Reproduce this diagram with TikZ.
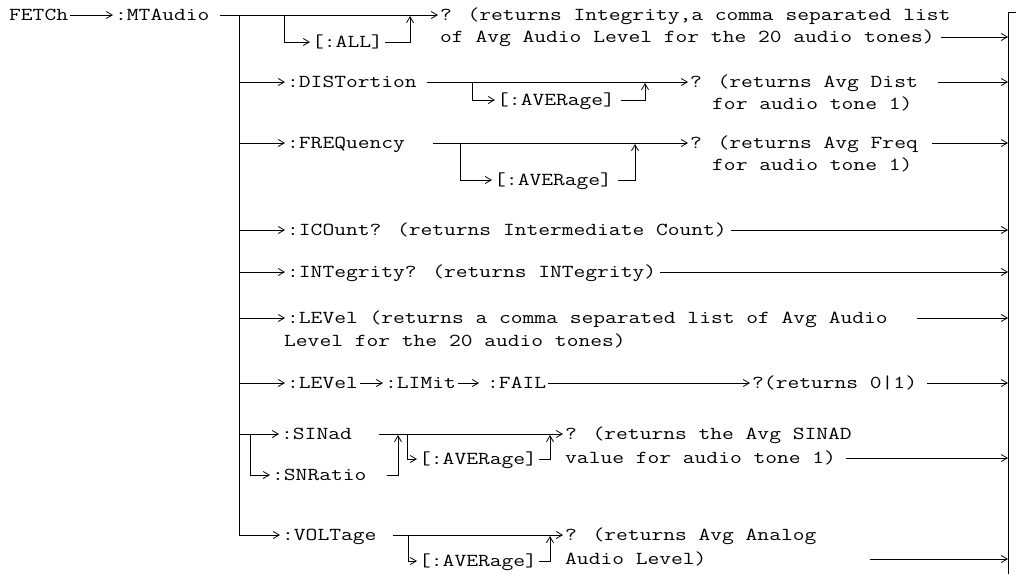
\documentclass[tikz,border=0pt]{standalone}
\usepackage{fontspec}
\usetikzlibrary{arrows.meta}
\newcommand\mt[1]{\scalebox{1}[0.8]{#1}}
\begin{document}
\begin{tikzpicture}[x=1pt,y=-1pt,
 lbl/.style={anchor=west, inner xsep=2pt, inner ysep=0pt, text height=11.2pt, text depth=0pt, font=\ttfamily\fontsize{22.86}{26}\selectfont},
 ln/.style={line width=0.8pt},
 arr/.style={ln,-{Straight Barb[length=6pt,width=7pt]}},
]
\useasboundingbox (0,0) rectangle (1018,574);
% text nodes
\node[lbl] (fetch) at (7,15) {\mt{FETCh}};
\node[lbl] (mta) at (113,15) {\mt{:MTAudio}};
\node[lbl] (q1) at (438,15) {\mt{? (returns Integrity,a comma separated list}};
\node[lbl] (q1b) at (438,37) {\mt{of Avg Audio Level for the 20 audio tones)}};
\node[lbl] (all) at (310,42) {\mt{[:ALL]}};
\node[lbl] (dist) at (285,82) {\mt{:DISTortion}};
\node[lbl] (q2) at (688,82) {\mt{? (returns Avg Dist}};
\node[lbl] (q2b) at (710,104) {\mt{for audio tone 1)}};
\node[lbl] (avgD) at (495,100) {\mt{[:AVERage]}};
\node[lbl] (freq) at (285,143) {\mt{:FREQuency}};
\node[lbl] (q3) at (688,143) {\mt{? (returns Avg Freq}};
\node[lbl] (q3b) at (710,165) {\mt{for audio tone 1)}};
\node[lbl] (avgF) at (492,180) {\mt{[:AVERage]}};
\node[lbl] (icount) at (285,230) {\mt{:ICOunt? (returns Intermediate Count)}};
\node[lbl] (integ) at (285,272) {\mt{:INTegrity? (returns INTegrity)}};
\node[lbl] (level) at (285,318) {\mt{:LEVel (returns a comma separated list of Avg Audio}};
\node[lbl] (levelb) at (282,341) {\mt{Level for the 20 audio tones)}};
\node[lbl] (lev2) at (285,383) {\mt{:LEVel}};
\node[lbl] (limit) at (383,383) {\mt{:LIMit}};
\node[lbl] (fail) at (485,383) {\mt{:FAIL}};
\node[lbl] (q4) at (750,383) {\mt{?(returns 0|1)}};
\node[lbl] (sinad) at (279,434) {\mt{:SINad}};
\node[lbl] (snr) at (270,475) {\mt{:SNRatio}};
\node[lbl] (avgS) at (417,459) {\mt{[:AVERage]}};
\node[lbl] (q5) at (563,434) {\mt{? (returns the Avg SINAD}};
\node[lbl] (q5b) at (563,458) {\mt{value for audio tone 1)}};
\node[lbl] (volt) at (280,535) {\mt{:VOLTage}};
\node[lbl] (avgV) at (417,561) {\mt{[:AVERage]}};
\node[lbl] (q6) at (563,535) {\mt{? (returns Avg Analog}};
\node[lbl] (q6b) at (563,559) {\mt{Audio Level)}};
% coordinates
\coordinate (t0) at (239,15);
\coordinate (t9) at (239,535);
\coordinate (r0) at (1008,12);
\coordinate (r1) at (1008,574);
\coordinate (rt) at (1016,12);
\coordinate (aB) at (284,15);
\coordinate (aJ) at (410,15);
\coordinate (tD) at (239,82);
\coordinate (dB) at (472,82);
\coordinate (dJ) at (645,82);
\coordinate (tF) at (239,143);
\coordinate (fB) at (460,143);
\coordinate (fJ) at (635,143);
\coordinate (tI) at (239,230);
\coordinate (tN) at (239,272);
\coordinate (tL) at (239,318);
\coordinate (tL2) at (239,383);
\coordinate (tS) at (239,434);
\coordinate (sB) at (250,434);
\coordinate (sJ1) at (398,434);
\coordinate (sB2) at (407,434);
\coordinate (sJ2) at (550,434);
\coordinate (vB) at (408,535);
\coordinate (vJ) at (550,535);
% trunk and rail
\draw[ln] (t0) -- (t9);
\draw[ln] (rt) -- (r0) -- (r1);
% FETCh row
\draw[arr] (fetch.east) -- (mta.west);
\draw[arr] ([xshift=8pt]mta.east) -- (q1.west);
\draw[arr] (aB) |- (all.west);
\draw[arr] (all.east) -| ([yshift=-1pt]aJ);
\draw[arr] ([xshift=4pt]q1b.east) -- (q1b.east -| r0);
% DISTortion
\draw[arr] (tD) -- (dist.west);
\draw[arr] ([xshift=8pt]dist.east) -- (q2.west);
\draw[arr] (dB) |- (avgD.west);
\draw[arr] ([xshift=4pt]avgD.east) -| ([yshift=-1pt]dJ);
\draw[arr] ([xshift=18pt]q2.east) -- (q2.east -| r0);
% FREQuency
\draw[arr] (tF) -- (freq.west);
\draw[arr] ([xshift=26pt]freq.east) -- (q3.west);
\draw[arr] (fB) |- (avgF.west);
\draw[arr] ([xshift=4pt]avgF.east) -| ([yshift=-1pt]fJ);
\draw[arr] ([xshift=12pt]q3.east) -- (q3.east -| r0);
% ICOunt, INTegrity, LEVel
\draw[arr] (tI) -- (icount.west);
\draw[arr] ([xshift=2pt]icount.east) -- (icount.east -| r0);
\draw[arr] (tN) -- (integ.west);
\draw[arr] ([xshift=2pt]integ.east) -- (integ.east -| r0);
\draw[arr] (tL) -- (level.west);
\draw[arr] ([xshift=27pt]level.east) -- (level.east -| r0);
% LEVel:LIMit:FAIL
\draw[arr] (tL2) -- (lev2.west);
\draw[arr] (lev2.east) -- (limit.west);
\draw[arr, shorten >=6pt] (limit.east) -- (fail.west);
\draw[arr] (fail.east) -- (q4.west);
\draw[arr] ([xshift=8pt]q4.east) -- (q4.east -| r0);
% SINad / SNRatio
\draw[arr] (tS) -- (sinad.west);
\draw[arr] (sB) |- (snr.west);
\draw[arr] ([xshift=25pt]sinad.east) -- (q5.west);
\draw[arr] ([xshift=18pt]snr.east) -| ([yshift=-1pt]sJ1);
\draw[arr] (sB2) |- (avgS.west);
\draw[arr] (avgS.east) -| ([yshift=-1pt]sJ2);
\draw[arr] ([xshift=8pt]q5b.east) -- (q5b.east -| r0);
% VOLTage
\draw[arr] (t9) -- (volt.west);
\draw[arr] ([xshift=14pt]volt.east) -- (q6.west);
\draw[arr] (vB) |- (avgV.west);
\draw[arr] (avgV.east) -| ([yshift=-1pt]vJ);
\draw[arr] ([xshift=161pt]q6b.east) -- (q6b.east -| r0);
\end{tikzpicture}
\end{document}
